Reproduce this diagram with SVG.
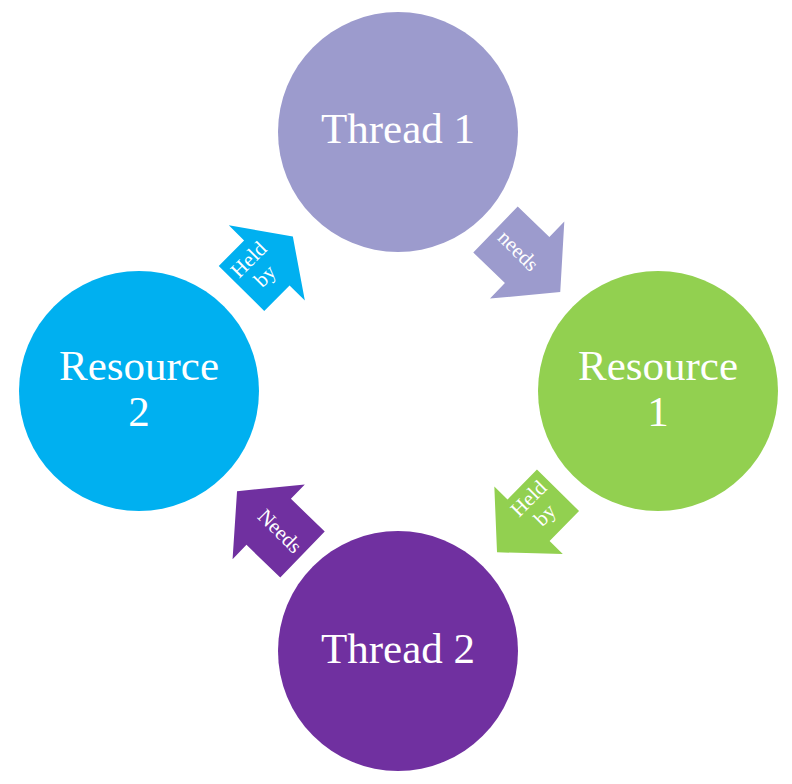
<svg xmlns="http://www.w3.org/2000/svg" width="792" height="784" viewBox="0 0 792 784">
<style>
.big{font-family:"Liberation Serif","Times New Roman",serif;font-size:43px;fill:#ffffff;text-anchor:middle}
.small{font-family:"Liberation Serif","Times New Roman",serif;font-size:21px;fill:#ffffff;text-anchor:middle}
.lav{fill:#9C9BCD}
.grn{fill:#92D050}
.pur{fill:#7030A0}
.blu{fill:#00B0F0}
</style>
<rect width="792" height="784" fill="#ffffff"/>
<g id="connectors">
  <g id="arrow-needs">
    <path class="lav" transform="translate(495.5,229.5) rotate(44)" d="M0,-32 L44,-32 L44,-53.5 L90,0 L44,53.5 L44,32 L0,32 Z"/>
    <text class="small" transform="translate(517,252) rotate(45)" x="0" y="5">needs</text>
  </g>
  <g id="arrow-heldby-1">
    <path class="grn" transform="translate(558,490.3) rotate(134.5)" d="M0,-29.5 L42,-29.5 L42,-48 L87,0 L42,48 L42,29.5 L0,29.5 Z"/>
    <text class="small" transform="translate(537,507) rotate(-45)"><tspan x="0" y="-5">Held</tspan><tspan x="0" y="18">by</tspan></text>
  </g>
  <g id="arrow-needs-2">
    <path class="pur" transform="translate(302.5,554.5) rotate(-136)" d="M0,-32 L47,-32 L47,-52 L91,0 L47,52 L47,32 L0,32 Z"/>
    <text class="small" transform="translate(280,531) rotate(45)" x="0" y="7">Needs</text>
  </g>
  <g id="arrow-heldby-2">
    <path class="blu" transform="translate(241.5,288.5) rotate(-45.3)" d="M0,-32 L36,-32 L36,-53.5 L73,0 L36,53.5 L36,32 L0,32 Z"/>
    <text class="small" transform="translate(257,268) rotate(-45)"><tspan x="0" y="-5">Held</tspan><tspan x="0" y="18">by</tspan></text>
  </g>
</g>
<g id="thread1">
  <circle class="lav" cx="398" cy="132" r="120"/>
  <text class="big" x="398" y="143">Thread 1</text>
</g>
<g id="resource1">
  <circle class="grn" cx="658" cy="391" r="120"/>
  <text class="big" x="658" y="379.5">Resource</text>
  <text class="big" x="658" y="426">1</text>
</g>
<g id="thread2">
  <circle class="pur" cx="398" cy="651" r="120"/>
  <text class="big" x="398" y="663">Thread 2</text>
</g>
<g id="resource2">
  <circle class="blu" cx="139" cy="391" r="120"/>
  <text class="big" x="139" y="379.5">Resource</text>
  <text class="big" x="139" y="426">2</text>
</g>
</svg>
